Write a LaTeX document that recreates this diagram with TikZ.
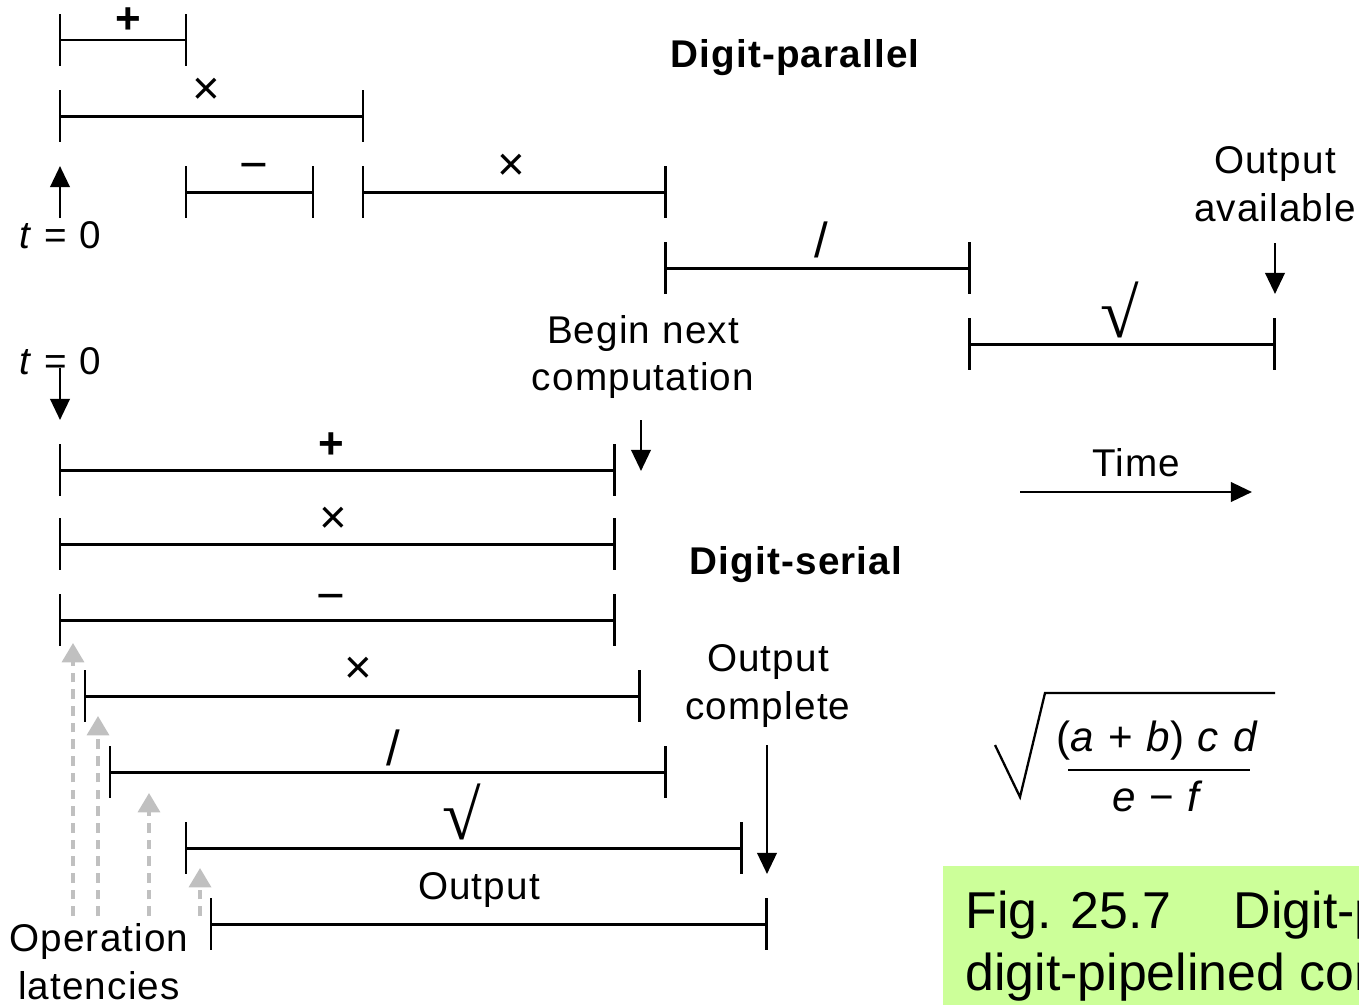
\documentclass[tikz,border=0pt]{standalone}
\usepackage{fontspec}
\setmainfont{Liberation Sans}
\newfontfamily\serifsym{Liberation Serif}
\usetikzlibrary{arrows.meta}
\definecolor{capgreen}{HTML}{CCFF99}
\definecolor{latgray}{HTML}{C0C0C0}
\newcommand\ivl[4]{%
  \draw[barline] (#1,#3-26) -- (#1,#3+26) (#1,#3) -- (#2,#3) (#2,#3-26) -- (#2,#3+26);}
\newcommand\txtfont{\fontsize{22}{27.2}\selectfont\addfontfeature{LetterSpace=3}}
\begin{document}
\begin{tikzpicture}[x=0.02cm,y=-0.02cm,
  barline/.style={line width=1.7pt},
  txt/.style={font=\txtfont, align=center, inner sep=0pt},
  opplus/.style={font=\fontsize{25}{27}\selectfont\bfseries, inner sep=0pt},
  optimes/.style={font=\fontsize{27}{27}\selectfont, inner sep=0pt},
  opminus/.style={font=\fontsize{28}{27}\selectfont, inner sep=0pt},
  opdiv/.style={font=\fontsize{28}{27}\selectfont, inner sep=0pt},
  opsqrt/.style={font=\fontsize{40}{40}\selectfont\serifsym, inner sep=0pt},
  blackarrow/.style={line width=1.6pt,-{Triangle[length=12pt,width=11pt]}},
  grayarrow/.style={latgray,line width=2.1pt,dash pattern=on 5.5pt off 4pt,-{Triangle[length=11pt,width=12.5pt]}}]
\useasboundingbox (0,0) rectangle (1359,1005);

% ---------- Digit-parallel ----------
\ivl{60}{186}{40}{}
\ivl{60}{363}{116}{}
\ivl{186}{313}{192}{}
\ivl{363}{665}{192}{}
\ivl{665}{969}{268}{}
\ivl{969}{1274}{344}{}
\node[opplus] (p1) at (128,21) {+};
\node[optimes] (p2) at (206,91) {×};
\node[opminus] (p3) at (254,172) {−};
\node[optimes] (p4) at (511,167) {×};
\node[opdiv] (p5) at (821,240) {/};
\node[opsqrt] (p6) at (1120,310) {√};
\node[txt,font=\txtfont\bfseries] (dp) at (795,58) {Digit-parallel};

\node[txt,anchor=base] (t0p) at (60,248) {\textit{t} = 0};
\coordinate (t0pa) at (60,218);
\coordinate (t0pb) at (60,166);
\draw[blackarrow] (t0pa) -- (t0pb);

\node[txt] (oa) at (1275,184) {Output\\available};
\coordinate (oaa) at (1275,243);
\coordinate (oab) at (1275,294);
\draw[blackarrow] (oaa) -- (oab);

% ---------- Digit-serial ----------
\node[txt,anchor=base] (t0s) at (60,374) {\textit{t} = 0};
\coordinate (t0sa) at (60,368);
\coordinate (t0sb) at (60,420);
\draw[blackarrow] (t0sa) -- (t0sb);

\ivl{60}{614}{470}{}
\ivl{60}{614}{544}{}
\ivl{60}{614}{620}{}
\ivl{85}{639}{696}{}
\ivl{110}{665}{772}{}
\ivl{186}{741}{848}{}
\ivl{211}{766}{924}{}
\node[opplus] (s1) at (331,446) {+};
\node[optimes] (s2) at (333,520) {×};
\node[opminus] (s3) at (331,603) {−};
\node[optimes] (s4) at (358,670) {×};
\node[opdiv] (s5) at (393,748) {/};
\node[opsqrt] (s6) at (462,812) {√};
\node[txt] (s7) at (479,890) {Output};
\node[txt,font=\txtfont\bfseries] (ds) at (796,565) {Digit-serial};

\node[txt] (bn) at (643,357) {Begin next\\computation};
\coordinate (bna) at (641,420);
\coordinate (bnb) at (641,471);
\draw[blackarrow] (bna) -- (bnb);

\node[txt] (oc) at (768,686) {Output\\complete};
\coordinate (oca) at (767,745);
\coordinate (ocb) at (767,874);
\draw[blackarrow] (oca) -- (ocb);

\node[txt] (tm) at (1136,463) {Time};
\coordinate (tma) at (1020,492);
\coordinate (tmb) at (1252,492);
\draw[line width=1.6pt,-{Triangle[length=12pt,width=11pt]}] (tma) -- (tmb);

% operation latencies
\coordinate (g1a) at (73,916);  \coordinate (g1b) at (73,643);
\coordinate (g2a) at (98,916);  \coordinate (g2b) at (98,716);
\coordinate (g3a) at (149,916); \coordinate (g3b) at (149,793);
\coordinate (g4a) at (200,916); \coordinate (g4b) at (200,868);
\draw[grayarrow] (g1a) -- (g1b);
\draw[grayarrow] (g2a) -- (g2b);
\draw[grayarrow] (g3a) -- (g3b);
\draw[grayarrow] (g4a) -- (g4b);
\node[txt] (ol) at (99,962) {Operation\\latencies};

% formula
\draw[line width=1.3pt] (995,745) -- (1020,797) -- (1045,693) -- (1275,693);
\node[inner sep=0pt,font=\fontsize{24}{27}\selectfont\addfontfeature{LetterSpace=3}] (num) at (1158,741) {(\textit{a} + \textit{b}) \textit{c} \textit{d}};
\draw[line width=1.3pt] (1068,770) -- (1250,770);
\node[inner sep=0pt,font=\fontsize{24}{27}\selectfont\addfontfeature{LetterSpace=3}] (den) at (1158,796) {\textit{e} − \textit{f}};

% caption
\begin{scope}
\clip (0,0) rectangle (1359,1005);
\fill[capgreen] (943,866) rectangle (1400,1005);
\node[anchor=base west,inner sep=0pt,font=\fontsize{29.5}{35}\selectfont] (cap1) at (965,928) {Fig. 25.7\hspace{1.2em}Digit-parallel};
\node[anchor=base west,inner sep=0pt,font=\fontsize{29.5}{35}\selectfont] (cap2) at (965,990) {digit-pipelined computation};
\end{scope}
\end{tikzpicture}
\end{document}
